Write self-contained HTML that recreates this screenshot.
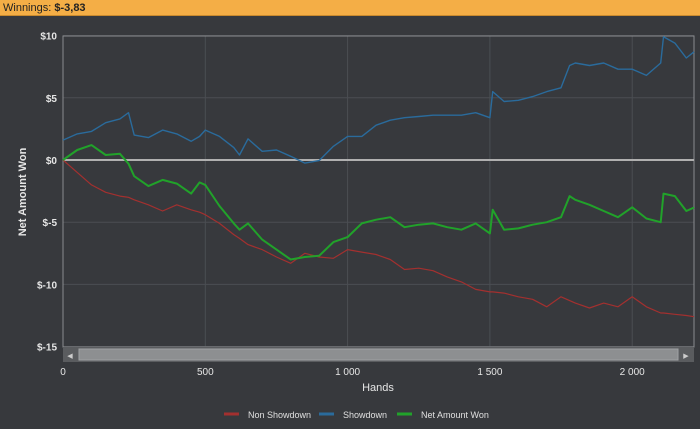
<!DOCTYPE html>
<html><head><meta charset="utf-8"><style>
body{margin:0;width:700px;height:429px;overflow:hidden;background:#37393d;font-family:"Liberation Sans",sans-serif}
#hdr{position:absolute;left:0;top:0;width:700px;height:16px;background:#f4ae46;border-bottom:1px solid #c98a2e;font-size:11px;line-height:16px;color:#222;padding-left:3px;box-sizing:border-box}
svg{position:absolute;left:0;top:0}
</style></head><body>
<div id="hdr">Winnings: <b>$-3,83</b></div>
<svg id="c" width="700" height="429"></svg>
<script>
const hands=[0,50,100,150,200,230,250,300,350,400,450,480,500,550,600,620,650,700,750,800,850,900,950,1000,1050,1100,1150,1200,1250,1300,1350,1400,1450,1500,1510,1550,1600,1650,1700,1750,1780,1800,1850,1900,1950,2000,2050,2100,2110,2150,2190,2217];
const showdown=[1.6,2.1,2.3,3.0,3.3,3.8,2.0,1.8,2.4,2.1,1.5,1.9,2.4,1.9,1.0,0.4,1.7,0.7,0.8,0.3,-0.25,-0.05,1.1,1.9,1.9,2.8,3.2,3.4,3.5,3.6,3.6,3.6,3.8,3.4,5.5,4.7,4.8,5.1,5.5,5.8,7.6,7.8,7.6,7.8,7.3,7.3,6.8,7.8,9.9,9.4,8.2,8.7];
const netWon=[0,0.8,1.2,0.4,0.5,-0.3,-1.3,-2.1,-1.6,-1.9,-2.7,-1.8,-2.0,-3.7,-5.1,-5.6,-5.1,-6.4,-7.2,-8.0,-7.8,-7.7,-6.6,-6.2,-5.1,-4.8,-4.6,-5.4,-5.2,-5.1,-5.4,-5.6,-5.1,-5.9,-4.0,-5.6,-5.5,-5.2,-5.0,-4.6,-2.9,-3.2,-3.6,-4.1,-4.6,-3.8,-4.7,-5.0,-2.7,-2.9,-4.1,-3.83];
const nonShowdown=[0,-1.0,-2.0,-2.6,-2.9,-3.0,-3.2,-3.6,-4.1,-3.6,-4.0,-4.2,-4.4,-5.1,-6.0,-6.3,-6.8,-7.2,-7.8,-8.3,-7.5,-7.8,-7.9,-7.2,-7.4,-7.6,-8.0,-8.8,-8.7,-8.9,-9.4,-9.8,-10.4,-10.6,-10.6,-10.7,-11.0,-11.2,-11.8,-11.0,-11.3,-11.5,-11.9,-11.5,-11.8,-11.0,-11.8,-12.3,-12.3,-12.4,-12.5,-12.6];
const yTicks=[10,5,0,-5,-10,-15];
const yTickLabels=["$10","$5","$0","$-5","$-10","$-15"];
const xTicks=[0,500,1000,1500,2000];
const xTickLabels=["0","500","1 000","1 500","2 000"];
const L=63,R=694,T=36,B=347;
const X=h=>L+h*0.2846, Y=v=>160-v*12.44;
const svg=document.getElementById('c'),NS='http://www.w3.org/2000/svg';
function mk(t,a,p){const e=document.createElementNS(NS,t);for(const k in a)e.setAttribute(k,a[k]);(p||svg).appendChild(e);return e;}
let g;
yTicks.forEach((v,i)=>{
 g=mk('line',{x1:L,x2:R,y1:Y(v),y2:Y(v),stroke:'#4b4e53','stroke-width':1});
 
 
 g=mk('text',{x:57,y:Y(v)+4,'text-anchor':'end','font-size':10,'font-weight':'bold',fill:'#e6e6e6'});g.textContent=yTickLabels[i];
 
 
});
xTicks.forEach((v,i)=>{
 g=mk('line',{x1:X(v),x2:X(v),y1:T,y2:B,stroke:'#4b4e53','stroke-width':1});
 
 
 g=mk('text',{x:X(v),y:375,'text-anchor':'middle','font-size':10,fill:'#e6e6e6'});g.textContent=xTickLabels[i];
 
 
});
g=mk('rect',{x:L,y:T,width:R-L,height:B-T,fill:'none',stroke:'#8a8c8f','stroke-width':1});


g=mk('line',{x1:L,x2:R,y1:Y(0),y2:Y(0),stroke:'#b0b0b0','stroke-width':2});


function series(vals,color,w,name){
 const d=hands.map((h,i)=>(i?'L':'M')+X(h).toFixed(1)+','+Y(vals[i]).toFixed(1)).join('');
 const p=mk('path',{d:d,fill:'none',stroke:color,'stroke-width':w,'stroke-linejoin':'round'});
 
 
}
series(nonShowdown,'#a3302f',1.2,'non-showdown-line');
series(showdown,'#2a6b9c',1.4,'showdown-line');
series(netWon,'#21a22a',2,'net-amount-won-line');
// scrollbar
g=mk('rect',{x:L,y:347,width:R-L,height:15,fill:'#5a5c5f'});


g=mk('rect',{x:79,y:349,width:599,height:11,fill:'#8d8f91',stroke:'#a0a2a4'});


g=mk('text',{x:70,y:358,'font-size':7,fill:'#ccc','text-anchor':'middle'});g.textContent='◀';


g=mk('text',{x:686,y:358,'font-size':7,fill:'#ccc','text-anchor':'middle'});g.textContent='▶';


g=mk('text',{x:378,y:391,'text-anchor':'middle','font-size':11,fill:'#e6e6e6'});g.textContent='Hands';


g=mk('text',{x:0,y:0,'text-anchor':'middle','font-size':11,'font-weight':'bold',fill:'#e6e6e6',transform:'translate(26,192) rotate(-90)'});g.textContent='Net Amount Won';


const legNames=['Non Showdown','Showdown','Net Amount Won'],legCols=['#a3302f','#2a6b9c','#21a22a'],legX=[224,319,397];
legNames.forEach((n,i)=>{
 g=mk('line',{x1:legX[i],x2:legX[i]+15,y1:414,y2:414,stroke:legCols[i],'stroke-width':3});
 
 
 g=mk('text',{x:legX[i]+24,y:418,'font-size':9,fill:'#e0e0e0'});g.textContent=n;
 
 
});
</script>
</body></html>
